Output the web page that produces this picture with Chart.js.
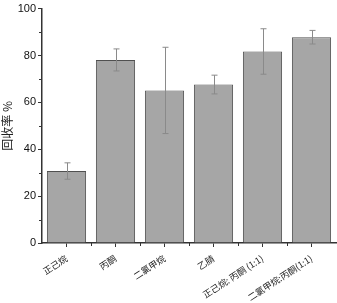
<!DOCTYPE html>
<html>
<head>
<meta charset="utf-8">
<script src="https://cdn.jsdelivr.net/npm/chart.js@4"></script>
<style>
  html, body { margin: 0; padding: 0; background: #fff; }
  #wrap { width: 337px; height: 303px; }
</style>
</head>
<body>
<div id="wrap"><canvas id="recChart" width="337" height="303"></canvas></div>
<script>
// === Data ===
const solvents = ["正己烷", "丙酮", "二氯甲烷", "乙腈", "正己烷: 丙酮 (1:1)", "二氯甲烷:丙酮(1:1)"];
const recovery = [30.7, 78.1, 65.1, 67.6, 81.7, 87.8];
const recoveryErr = [3.5, 4.7, 18.4, 4.0, 9.7, 2.9];
const yTicks = [0, 20, 40, 60, 80, 100];
const yMinorTicks = [10, 30, 50, 70, 90];

// error bars + minor ticks, drawn from the chart's own scales
const extrasPlugin = {
  id: "extras",
  afterDatasetsDraw(chart) {
    const c = chart.ctx;
    const y = chart.scales.y;
    const meta = chart.getDatasetMeta(0);
    c.save();
    c.strokeStyle = "#8a8a8a";
    c.lineWidth = 1;
    meta.data.forEach((bar, i) => {
      const top = y.getPixelForValue(recovery[i] + recoveryErr[i]);
      const bot = y.getPixelForValue(recovery[i] - recoveryErr[i]);
      const x = Math.round(bar.x) + 0.5;
      c.beginPath();
      c.moveTo(x, top); c.lineTo(x, bot);
      c.moveTo(x - 3, top); c.lineTo(x + 3, top);
      c.moveTo(x - 3, bot); c.lineTo(x + 3, bot);
      c.stroke();
    });
    c.restore();
  },
  afterDraw(chart) {
    const c = chart.ctx;
    const x = chart.scales.x;
    const y = chart.scales.y;
    const area = chart.chartArea;
    c.save();
    c.strokeStyle = "#333";
    c.lineWidth = 1;
    // y minor ticks
    yMinorTicks.forEach(v => {
      const py = Math.round(y.getPixelForValue(v)) + 0.5;
      c.beginPath();
      c.moveTo(area.left - 3, py); c.lineTo(area.left, py);
      c.stroke();
    });
    // x minor ticks at category boundaries
    for (let i = 0; i < solvents.length - 1; i++) {
      const px = Math.round((x.getPixelForValue(i) + x.getPixelForValue(i + 1)) / 2) + 0.5;
      c.beginPath();
      c.moveTo(px, area.bottom); c.lineTo(px, area.bottom + 3);
      c.stroke();
    }
    c.restore();
  }
};

const ctx = document.getElementById("recChart").getContext("2d");
const chart = new Chart(ctx, {
  type: "bar",
  data: {
    labels: solvents,
    datasets: [{
      data: recovery,
      backgroundColor: "#a6a6a6",
      borderColor: "#505050",
      borderWidth: 1,
      categoryPercentage: 0.8,
      barPercentage: 1.0
    }]
  },
  options: {
    responsive: false,
    animation: false,
    layout: { padding: { top: 5, right: 1, left: 0, bottom: 0 } },
    plugins: {
      legend: { display: false },
      tooltip: { enabled: false }
    },
    scales: {
      x: {
        afterFit: s => { s.height = 60; },
        grid: {
          offset: false,
          drawOnChartArea: false,
          tickLength: 4,
          tickColor: "#333"
        },
        border: { color: "#333", width: 1.5 },
        ticks: {
          autoSkip: false,
          minRotation: 33,
          maxRotation: 33,
          padding: 6,
          color: "#222",
          font: { family: "'Noto Sans CJK SC'", size: 9 }
        }
      },
      y: {
        min: 0,
        max: 100,
        afterFit: s => { s.width = 42; },
        afterBuildTicks: s => { s.ticks = yTicks.map(v => ({ value: v })); },
        grid: {
          drawOnChartArea: false,
          tickLength: 4,
          tickColor: "#333"
        },
        border: { color: "#333", width: 1.5 },
        title: {
          display: true,
          text: "回收率 %",
          color: "#222",
          padding: 0,
          font: { family: "'Noto Sans CJK SC'", size: 12 }
        },
        ticks: {
          padding: 2,
          color: "#111",
          font: { family: "'Liberation Sans', Arial", size: 11 }
        }
      }
    }
  },
  plugins: [extrasPlugin]
});
</script>
</body>
</html>
